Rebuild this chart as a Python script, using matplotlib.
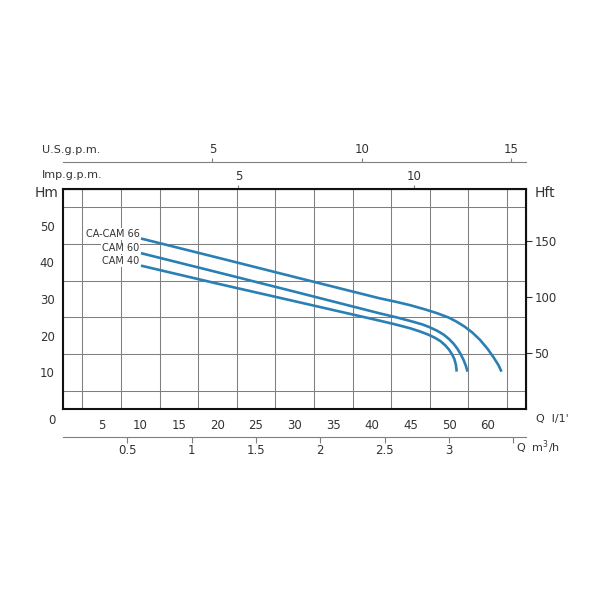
import numpy as np
import matplotlib
matplotlib.use("Agg")
import matplotlib.pyplot as plt

# Pump curves: flow Q (l/min) vs head H (m)
CAM66_Q = [10.1, 20.0, 30.0, 41.0, 43.0, 45.0, 47.0, 48.5, 50.0, 51.0, 52.0, 53.0, 54.0, 55.0, 55.8, 56.4, 56.8]
CAM66_H = [46.5, 41.3, 36.0, 30.2, 29.3, 28.3, 27.1, 26.1, 24.9, 23.8, 22.5, 20.9, 18.9, 16.4, 14.0, 12.0, 10.2]
CAM60_Q = [10.1, 20.0, 30.0, 41.0, 43.0, 45.0, 46.5, 47.5, 48.5, 49.3, 50.0, 50.6, 51.1, 51.5, 51.9, 52.2, 52.4]
CAM60_H = [42.5, 37.3, 32.0, 26.1, 25.1, 24.0, 23.1, 22.3, 21.3, 20.3, 19.1, 17.8, 16.4, 15.0, 13.3, 11.7, 10.2]
CAM40_Q = [10.1, 20.0, 30.0, 41.0, 43.0, 45.0, 46.3, 47.3, 48.2, 48.9, 49.5, 50.0, 50.4, 50.7, 50.9, 51.0]
CAM40_H = [39.1, 34.2, 29.4, 24.1, 23.1, 22.0, 21.1, 20.3, 19.4, 18.5, 17.4, 16.2, 14.9, 13.6, 12.0, 10.2]
CURVE_NAMES = ["CA-CAM 66", "CAM 60", "CAM 40"]

# axis ticks
Q_TICKS = [5, 10, 15, 20, 25, 30, 35, 40, 45, 50, 55]
Q_LABELS = ["5", "10", "15", "20", "25", "30", "35", "40", "45", "50", "60"]
HM_TICKS = [10, 20, 30, 40, 50]
HFT_TICKS = [50, 100, 150]
US_TICKS = [5, 10, 15]
IMP_TICKS = [5, 10]
M3H_TICKS = [0.5, 1, 1.5, 2, 2.5, 3, 3.5]
M3H_LABELS = ["0.5", "1", "1.5", "2", "2.5", "3", ""]

US_GPM = 3.87    # l/min per U.S. gpm as drawn on the chart
IMP_GPM = 4.546  # l/min per Imp. gpm
FT = 0.3048

BLUE = "#2a80b4"
GRID = "#7f7f7f"
TXT = "#333333"

plt.rcParams.update({
    "font.family": ["DejaVu Sans"],
    "font.size": 8,
    "text.color": TXT,
    "xtick.color": TXT,
    "ytick.color": TXT,
})

fig = plt.figure(figsize=(6, 6), dpi=100)
ax = fig.add_axes([0.105, 0.3183, 0.772, 0.3667])
ax.set_xlim(0, 60)
ax.set_ylim(0, 60)

ax.set_xticks(np.arange(0, 60.1, 2.5), minor=True)
ax.set_yticks(np.arange(0, 60.1, 5), minor=True)
ax.grid(which="minor", color=GRID, linewidth=0.75)
ax.set_xticks(Q_TICKS, Q_LABELS)
ax.set_yticks(HM_TICKS)
ax.tick_params(which="both", length=0)
ax.tick_params(axis="x", pad=7, labelsize=8.5)
ax.tick_params(axis="y", pad=6, labelsize=8.5)
for s in ax.spines.values():
    s.set_linewidth(1.5)
    s.set_color("#111111")

for q, h in zip([CAM66_Q, CAM60_Q, CAM40_Q], [CAM66_H, CAM60_H, CAM40_H]):
    ax.plot(q, h, color=BLUE, linewidth=1.9, solid_capstyle="butt",
            solid_joinstyle="round", zorder=3)

for name, h in zip(CURVE_NAMES, [CAM66_H[0], CAM60_H[0], CAM40_H[0]]):
    ax.text(9.9, h + 1.3, name, ha="right", va="center", fontsize=7, color=TXT,
            bbox=dict(facecolor="white", edgecolor="none", pad=0.6), zorder=4)

# right axis in feet
ry = ax.secondary_yaxis("right", functions=(lambda m: m / FT, lambda f: f * FT))
ry.set_yticks(HFT_TICKS)
ry.tick_params(length=4, width=0.8, pad=2, labelsize=8.5, color=TXT)

# top: Imp gpm on the frame
imp = ax.secondary_xaxis("top", functions=(lambda q: q / IMP_GPM, lambda g: g * IMP_GPM))
imp.set_xticks(IMP_TICKS)
imp.tick_params(length=3, width=0.8, pad=1, labelsize=8.5, color=GRID)

# top: U.S. gpm on a separate line
us = ax.secondary_xaxis(1.1227, functions=(lambda q: q / US_GPM, lambda g: g * US_GPM))
us.set_xticks(US_TICKS)
us.spines["top"].set_color(GRID)
us.spines["top"].set_linewidth(0.8)
us.tick_params(length=3, width=0.8, pad=1, labelsize=8.5, color=GRID)

# bottom: m3/h on a separate line
m3 = ax.secondary_xaxis(-0.127, functions=(lambda q: q * 0.06, lambda v: v / 0.06))
m3.set_xticks(M3H_TICKS, M3H_LABELS)
m3.spines["bottom"].set_color(GRID)
m3.spines["bottom"].set_linewidth(0.8)
m3.tick_params(length=4, width=0.8, pad=1, labelsize=8.5, color=GRID)

# axis titles
fig.text(47 / 600, 1 - 193 / 600, "Hm", fontsize=10, ha="center", va="center")
fig.text(545 / 600, 1 - 193 / 600, "Hft", fontsize=10, ha="center", va="center")
fig.text(52 / 600, 1 - 420 / 600, "0", fontsize=8.5, ha="center", va="center")
fig.text(42 / 600, 1 - 150 / 600, "U.S.g.p.m.", fontsize=8, ha="left", va="center")
fig.text(42 / 600, 1 - 175 / 600, "Imp.g.p.m.", fontsize=8, ha="left", va="center")
fig.text(536 / 600, 1 - 419 / 600, "Q  l/1'", fontsize=8, ha="left", va="center")
fig.text(516 / 600, 1 - 447 / 600, "Q  m$^3$/h", fontsize=8, ha="left", va="center")

fig.savefig("out.png", dpi=100, facecolor="white")
